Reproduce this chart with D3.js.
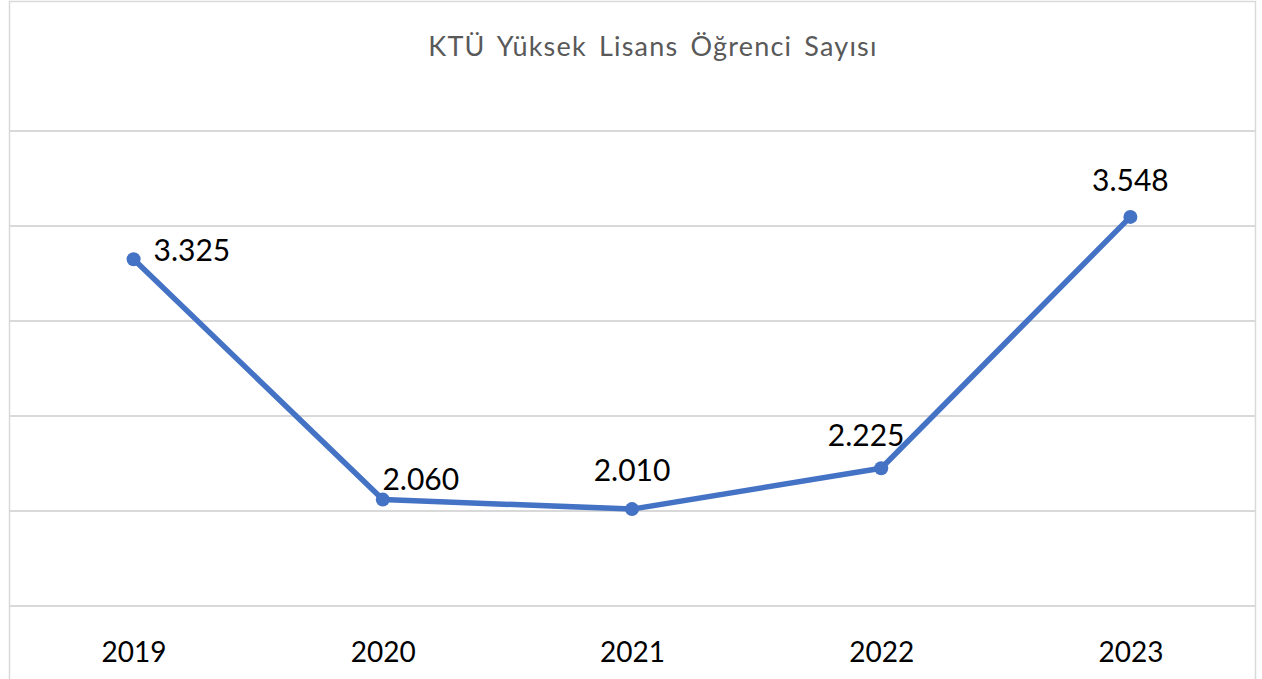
<!DOCTYPE html>
<html>
<head>
<meta charset="utf-8">
<script src="https://cdn.jsdelivr.net/npm/d3@7"></script>
<style>
  body { margin: 0; background: #fff; }
  svg { display: block; font-family: Lato, "Noto Sans", sans-serif; }
</style>
</head>
<body>
<div id="chart"></div>
<script>
const title = "KTÜ Yüksek Lisans Öğrenci Sayısı";
const years = ["2019", "2020", "2021", "2022", "2023"];
const students = [3325, 2060, 2010, 2225, 3548];
const yTicks = [1500, 2000, 2500, 3000, 3500, 4000];

const width = 1262, height = 679;
const plot = { left: 9, right: 1255, top: 131, bottom: 606 };

// label placement like the Excel original (dx, dy, anchor)
const labelPos = [
  { dx: 20, dy: 2, anchor: "start" },
  { dx: 38, dy: -10, anchor: "middle" },
  { dx: 0, dy: -28, anchor: "middle" },
  { dx: -15, dy: -22, anchor: "middle" },
  { dx: 0, dy: -26, anchor: "middle" }
];

const numFmt = d => d3.format(",")(d).replace(/,/g, ".");

const svg = d3.select("#chart")
  .append("svg")
    .attr("width", width)
    .attr("height", height);

// chart border
svg.append("rect")
  .attr("x", 9.5).attr("y", 1.5)
  .attr("width", 1246).attr("height", 700)
  .attr("fill", "none")
  .attr("stroke", "#d9d9d9")
  .attr("stroke-width", 1.5);

const x = d3.scalePoint()
  .domain(years)
  .range([plot.left, plot.right])
  .padding(0.5);

const y = d3.scaleLinear()
  .domain([1500, 4000])
  .range([plot.bottom, plot.top]);

// gridlines
svg.append("g")
  .selectAll("line")
  .data(yTicks)
  .join("line")
    .attr("x1", plot.left)
    .attr("x2", plot.right)
    .attr("y1", d => y(d))
    .attr("y2", d => y(d))
    .attr("stroke", "#d9d9d9")
    .attr("stroke-width", 2);

// x axis labels
const xAxis = svg.append("g")
  .attr("transform", `translate(0, ${plot.bottom})`)
  .call(d3.axisBottom(x).tickSize(0).tickPadding(36));
xAxis.select(".domain").remove();
xAxis.selectAll("text")
  .style("font-size", "28px")
  .style("fill", "#000")
  .style("font-family", "Lato, 'Noto Sans', sans-serif");

// title
svg.append("text")
  .attr("x", 653)
  .attr("y", 56)
  .attr("text-anchor", "middle")
  .style("font-size", "27px")
  .style("letter-spacing", "1.2px")
  .style("word-spacing", "4px")
  .style("fill", "#595959")
  .text(title);

const points = years.map((yr, i) => ({ year: yr, value: students[i], pos: labelPos[i] }));

const line = d3.line()
  .x(d => x(d.year))
  .y(d => y(d.value));

svg.append("path")
  .datum(points)
  .attr("d", line)
  .attr("fill", "none")
  .attr("stroke", "#4472c4")
  .attr("stroke-width", 5.5)
  .attr("stroke-linejoin", "round");

svg.append("g")
  .selectAll("circle")
  .data(points)
  .join("circle")
    .attr("cx", d => x(d.year))
    .attr("cy", d => y(d.value))
    .attr("r", 7)
    .attr("fill", "#4472c4");

svg.append("g")
  .selectAll("text")
  .data(points)
  .join("text")
    .attr("x", d => x(d.year) + d.pos.dx)
    .attr("y", d => y(d.value) + d.pos.dy)
    .attr("text-anchor", d => d.pos.anchor)
    .style("font-size", "30px")
    .style("fill", "#000")
    .text(d => numFmt(d.value));
</script>
</body>
</html>
